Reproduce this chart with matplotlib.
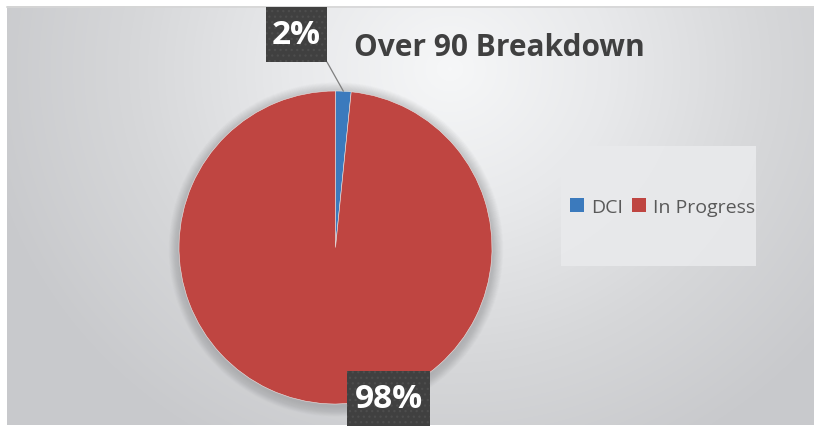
import numpy as np
import matplotlib
matplotlib.use("Agg")
import matplotlib.pyplot as plt
from matplotlib.patches import Rectangle, Circle
from matplotlib.colors import LinearSegmentedColormap

# ---- data ----
categories = ["DCI", "In Progress"]
values = [1.6, 98.4]
colors = ["#3B7ABD", "#BF4541"]
title = "Over 90 Breakdown"

plt.rcParams['font.family'] = ['Open Sans', 'DejaVu Sans']
plt.rcParams['hatch.linewidth'] = 0.9

W, H = 814, 427
fig = plt.figure(figsize=(W / 100, H / 100), dpi=100)
fig.patch.set_facecolor("white")

# background (pixel coordinates)
bg = fig.add_axes([0, 0, 1, 1], zorder=0)
bg.set_xlim(0, W)
bg.set_ylim(H, 0)
bg.axis("off")

x0, y0, x1, y1 = 7, 7, W, 426
xs = np.arange(x0, x1) + 0.5
ys = np.arange(y0, y1) + 0.5
X, Y = np.meshgrid(xs, ys)
r = np.sqrt(((X - 450) / 480) ** 2 + ((Y - 70) / 440) ** 2)
r = np.clip(r, 0, 1)
cmap = LinearSegmentedColormap.from_list("g", ["#f6f7f8", "#e8e9eb", "#d6d7d9", "#c8c9cc"])
bg.imshow(r, cmap=cmap, vmin=0, vmax=1, extent=(x0, x1, y1, y0), aspect="auto",
          interpolation="bilinear", zorder=0)
bg.plot([x0, x1], [y0 + 0.5, y0 + 0.5], color="#d6d6d6", lw=1.2, zorder=1)

# pie shadow (soft)
cx, cy, R = 335.5, 248.5, 156.5
for k in range(24, 0, -1):
    bg.add_patch(Circle((cx + 0.5, cy + 2.0), R + k * 0.45, color="#7a7b7e",
                        alpha=0.016, lw=0, zorder=2))

# legend background
bg.add_patch(Rectangle((561, 147), 195, 120, facecolor="#e9eaec", alpha=0.9,
                       lw=0, zorder=2))

# pie
ax = fig.add_axes([(cx - R) / W, (H - cy - R) / H, 2 * R / W, 2 * R / H], zorder=1)
wedges, _ = ax.pie(values, colors=colors, startangle=90, counterclock=False,
                   radius=1, wedgeprops=dict(edgecolor="#e8e8e8", linewidth=0.4))
ax.set_xlim(-1, 1)
ax.set_ylim(-1, 1)
ax.set_aspect("equal")
ax.axis("off")
ax.patch.set_alpha(0)

# overlay for labels
ov = fig.add_axes([0, 0, 1, 1], zorder=3)
ov.set_xlim(0, W)
ov.set_ylim(H, 0)
ov.axis("off")
ov.patch.set_alpha(0)

ov.text(499, 56, title, ha="center", va="baseline", fontsize=21.5,
        fontweight="bold", color="#404040")

total = sum(values)
pcts = [f"{round(v / total * 100):d}%" for v in values]

# leader line for first slice
mid = np.deg2rad(90 - values[0] / total * 360 / 2)
ax.annotate("", xy=(np.cos(mid), np.sin(mid)), xycoords="data",
            xytext=(327, 63), textcoords=ov.transData,
            arrowprops=dict(arrowstyle="-", color="#7f7f7f", lw=0.9,
                            shrinkA=0, shrinkB=0),
            annotation_clip=False)

boxes = [(266, 8, 61, 55, 296.5, 35), (347, 372, 83, 55, 388.5, 400)]
for (bx, by, bw, bh, tx, ty), p in zip(boxes, pcts):
    ov.add_patch(Rectangle((bx, by), bw, bh, facecolor="#404040", edgecolor="#4d4d4d",
                           hatch="...", lw=0, zorder=4))
    ov.text(tx, ty, p, ha="center", va="center", fontsize=24, fontweight="bold",
            color="white", zorder=5)

leg = fig.legend(wedges, categories, loc="center", ncol=2,
                 bbox_to_anchor=(662.5 / W, 1 - 208 / H), frameon=False,
                 fontsize=14, handlelength=0.72, handleheight=0.72,
                 handletextpad=0.36, columnspacing=0.42, borderpad=0)
for t in leg.get_texts():
    t.set_color("#595959")
for h in leg.legend_handles:
    h.set_edgecolor("none")

fig.savefig("out.png", dpi=100)
